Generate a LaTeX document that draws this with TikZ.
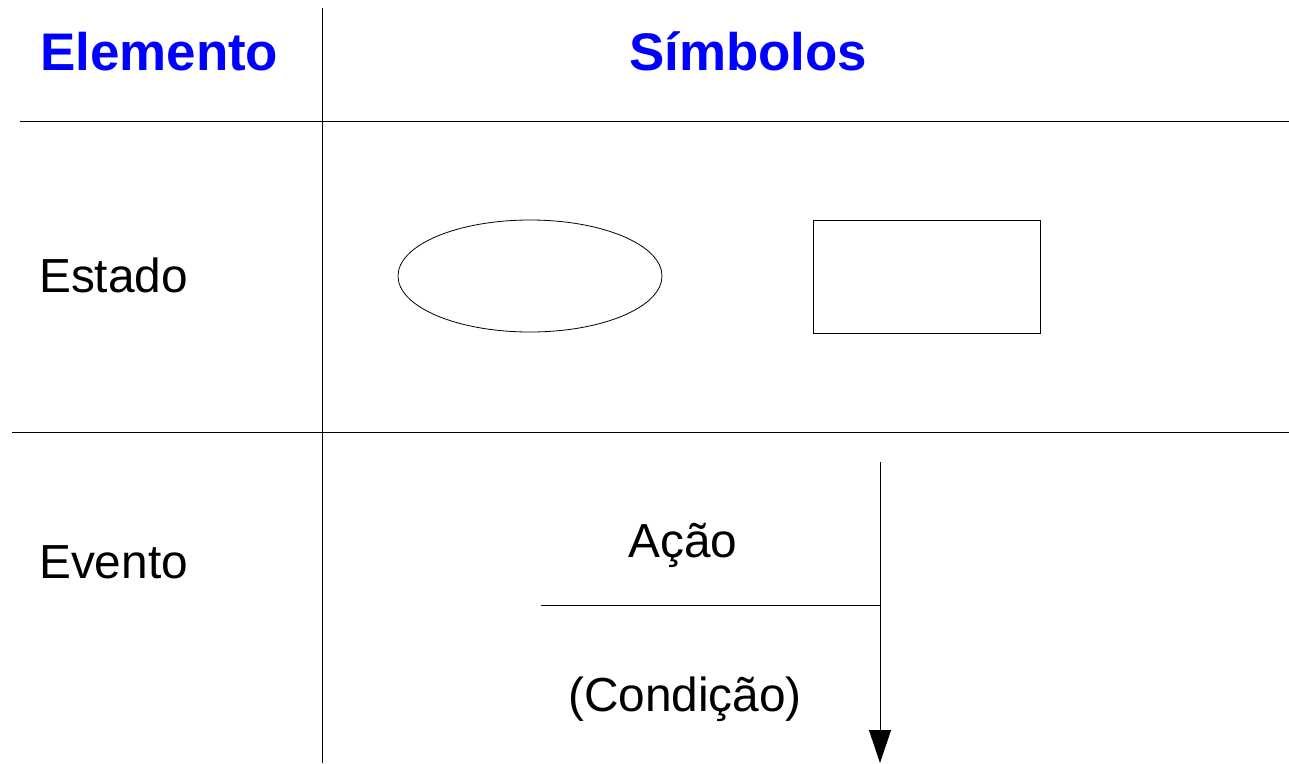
\documentclass[tikz,border=0pt]{standalone}
\usepackage{fontspec}
\setmainfont{Liberation Sans}
\usetikzlibrary{arrows.meta,shapes.geometric}
\begin{document}
\begin{tikzpicture}[x=1pt,y=-1pt,
  line/.style={draw=black,line width=1pt},
  head/.style={font=\fontsize{52.9}{60}\selectfont\bfseries,text=blue,inner sep=0pt,anchor=base west},
  lbl/.style={font=\fontsize{47.8}{54}\selectfont,inner sep=0pt,anchor=base west},
  sym/.style={draw=black,line width=0.8pt,inner sep=0pt}]
\useasboundingbox (0,0) rectangle (1289,763);
% grid lines
\coordinate (v1) at (322,8);
\coordinate (v2) at (322,763);
\coordinate (h1a) at (20,121);
\coordinate (h1b) at (1289,121);
\coordinate (h2a) at (12,432);
\coordinate (h2b) at (1289,432);
\draw[line] (v1) -- (v2);
\draw[line] (h1a) -- (h1b);
\draw[line] (h2a) -- (h2b);
% headers
\node[head] (elem) at (40,70) {Elemento};
\node[head] (simb) at (629,70) {Símbolos};
% labels
\node[lbl] (estado) at (39,292) {Estado};
\node[lbl] (evento) at (39,578) {Evento};
% state symbols
\node[sym,ellipse,minimum width=264pt,minimum height=112pt] (ell) at (530,276) {};
\node[sym,rectangle,minimum width=227pt,minimum height=113pt] (rect) at (926.5,276.5) {};
% event symbol
\coordinate (atop) at (880,462);
\coordinate (abot) at (880,763);
\coordinate (hl) at (541,605);
\coordinate (hr) at (880,605);
\draw[line,-{Triangle[length=33pt,width=22pt]}] (atop) -- (abot);
\draw[line] (hl) -- (hr);
\node[lbl,anchor=base] (acao) at (683,557) {Ação};
\node[lbl,anchor=base] (cond) at (685,711) {(Condição)};
\end{tikzpicture}
\end{document}
